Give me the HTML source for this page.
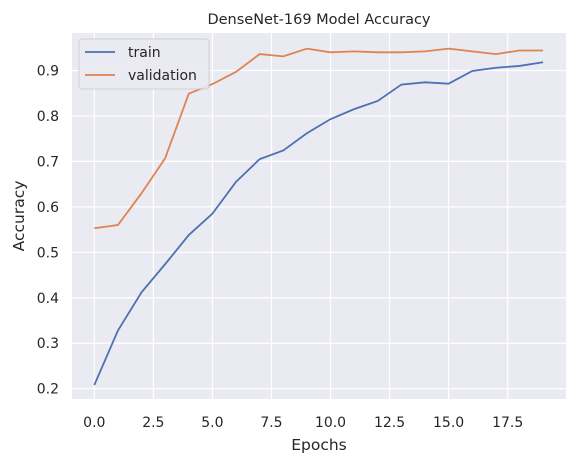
<!DOCTYPE html>
<html><head><meta charset="utf-8"><style>
body{margin:0;background:#fff;}
svg text{font-family:"DejaVu Sans","Liberation Sans",sans-serif;fill:#262626;}
</style></head><body>
<svg width="577" height="463">
<rect x="72" y="33" width="494" height="366" fill="#eaeaf2"/>
<g id="grid"></g>
<g id="lines"></g>
<text x="319" y="24" font-size="14.5" text-anchor="middle">DenseNet-169 Model Accuracy</text>
<text x="319" y="450" font-size="15.5" text-anchor="middle">Epochs</text>
<text transform="translate(24,216) rotate(-90)" font-size="15.5" text-anchor="middle">Accuracy</text>
<g>
<rect x="79" y="39" width="130" height="50" rx="3" fill="#eaeaf2" stroke="#cccccc" opacity="0.85"/>
<line x1="85" y1="52" x2="115" y2="52" stroke="#4c72b0" stroke-width="1.8"/>
<text x="128" y="57" font-size="14">train</text>
<line x1="85" y1="75" x2="115" y2="75" stroke="#dd8452" stroke-width="1.8"/>
<text x="128" y="80" font-size="14">validation</text>
</g>
</svg>
<script>
const epochs=[0,1,2,3,4,5,6,7,8,9,10,11,12,13,14,15,16,17,18,19];
const train=[0.208,0.328,0.412,0.474,0.538,0.585,0.655,0.705,0.724,0.762,0.793,0.815,0.833,0.869,0.874,0.871,0.899,0.906,0.910,0.918];
const validation=[0.553,0.560,0.630,0.707,0.849,0.870,0.897,0.936,0.931,0.948,0.940,0.942,0.940,0.940,0.942,0.948,0.942,0.936,0.944,0.944];
const xTicks=[0,2.5,5,7.5,10,12.5,15,17.5];
const yTicks=[0.2,0.3,0.4,0.5,0.6,0.7,0.8,0.9];
const X=v=>94.3+v*23.62;
const Y=v=>388.7-(v-0.2)*454.6;
const NS="http://www.w3.org/2000/svg";
const svg=document.querySelector('svg');
const grid=document.getElementById('grid'), lines=document.getElementById('lines');
function mk(t,a,p){const e=document.createElementNS(NS,t);for(const k in a)e.setAttribute(k,a[k]);p.appendChild(e);return e;}
xTicks.forEach(t=>{
 const l=mk('line',{x1:X(t),x2:X(t),y1:33,y2:399,stroke:'#fff','stroke-width':1.2},grid);
 
 
 const tx=mk('text',{x:X(t),y:427,'font-size':14,'text-anchor':'middle'},svg);
 tx.textContent=t.toFixed(1);
 
 
});
yTicks.forEach(t=>{
 const l=mk('line',{x1:72,x2:566,y1:Y(t),y2:Y(t),stroke:'#fff','stroke-width':1.2},grid);
 
 
 const tx=mk('text',{x:59,y:Y(t)+5,'font-size':14,'text-anchor':'end'},svg);
 tx.textContent=t.toFixed(1);
 
 
});
function draw(d,c,n){
 const p=mk('polyline',{points:d.map((v,i)=>X(epochs[i])+','+Y(v)).join(' '),fill:'none',stroke:c,'stroke-width':1.8},lines);
 
 
}
draw(train,'#4c72b0','train-line');
draw(validation,'#dd8452','validation-line');
</script>
</body></html>
